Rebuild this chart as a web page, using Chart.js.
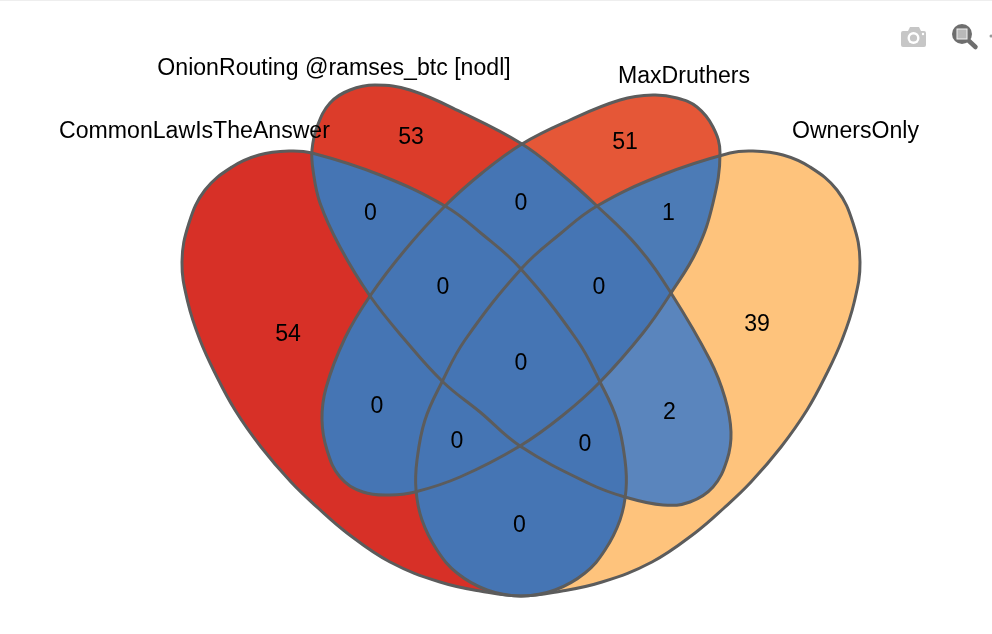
<!DOCTYPE html>
<html>
<head>
<meta charset="utf-8">
<title>Venn</title>
<script src="https://cdn.jsdelivr.net/npm/chart.js@4"></script>
<style>
	html, body { margin: 0; padding: 0; background: #fff; }
	#wrap { position: relative; width: 992px; height: 634px; overflow: hidden; }
	#wrap .topline { position: absolute; left: 0; top: 0; width: 992px; height: 1px; background: #eeeeee; }
	#wrap svg { position: absolute; left: 0; top: 0; }
	canvas { display: block; }
</style>
</head>
<body>
<div id="wrap">
	<canvas id="venn" width="992" height="634"></canvas>
	<div class="topline"></div>
	<!-- modebar icons -->
	<svg width="992" height="60" viewBox="0 0 992 60">
		<path d="M903 31h5l2-4h9l2 4h3a2 2 0 0 1 2 2v12a2 2 0 0 1-2 2h-21a2 2 0 0 1-2-2v-12a2 2 0 0 1 2-2z" fill="#c6c6c6"/>
		<circle cx="913.5" cy="38" r="6" fill="#fff"/>
		<circle cx="913.5" cy="38" r="3.6" fill="#c6c6c6"/>
		<circle cx="923" cy="34" r="1.2" fill="#fff"/>
		<line x1="968" y1="40" x2="975.5" y2="47" stroke="#6e6e6e" stroke-width="4.5" stroke-linecap="round"/>
		<circle cx="962" cy="34" r="10" fill="#6e6e6e"/>
		<rect x="957" y="29" width="10" height="10" fill="#b9b9b9" stroke="#f2f2f2" stroke-width="1"/>
		<circle cx="991" cy="36" r="1.5" fill="#999"/>
	</svg>
</div>
<script>
	// set names
	const setNames = ["CommonLawIsTheAnswer", "OnionRouting @ramses_btc [nodl]", "MaxDruthers", "OwnersOnly"];
	const setNameX = [194.5, 334, 684, 855.5];
	const setNameY = [132, 69, 77, 132];

	// which sets each region belongs to, and its count
	const regionSets = ["A", "B", "C", "D", "AB", "BC", "CD", "ABC", "BCD", "ABCD", "AC", "ACD", "ABD", "BD", "AD"];
	const regionCounts = [54, 53, 51, 39, 0, 0, 1, 0, 0, 0, 0, 0, 0, 2, 0];
	const regionLabelX = [288, 411, 625, 757, 370.5, 521, 668.5, 443, 599, 521, 377, 457, 585, 669.5, 519.5];
	const regionLabelY = [335, 138, 143, 325, 214, 204, 214, 288, 288, 364, 407, 442, 445, 413, 526];
	const regionColors = [
		"#d73027", "#dc3c2a", "#e55737", "#fec37c", "#4575b4", "#4575b4", "#4c7bb6", "#4575b4",
		"#4575b4", "#4575b4", "#4575b4", "#4575b4", "#4575b4", "#5a85bd", "#4575b4",
	];

	// outlines
	const outlineA = [
		{ x: 182, y: 262 }, { x: 189, y: 223 }, { x: 205, y: 190 }, { x: 232, y: 167 }, { x: 259, y: 155 },
		{ x: 289, y: 151 }, { x: 312, y: 153 }, { x: 380, y: 175 }, { x: 445, y: 206 }, { x: 482, y: 234 },
		{ x: 520, y: 268 }, { x: 577, y: 340 }, { x: 600, y: 382 }, { x: 617, y: 420 }, { x: 625, y: 460 },
		{ x: 626, y: 490 }, { x: 620, y: 520 }, { x: 605, y: 550 }, { x: 585, y: 573 }, { x: 555, y: 590 },
		{ x: 522, y: 596 }, { x: 480, y: 591 }, { x: 440, y: 582 }, { x: 390, y: 562 }, { x: 347, y: 533 },
		{ x: 318, y: 508 }, { x: 291, y: 482 }, { x: 261, y: 447 }, { x: 235, y: 410 }, { x: 215, y: 373 },
		{ x: 200, y: 340 }, { x: 188, y: 303 },
	];
	const outlineB = [
		{ x: 375, y: 85 }, { x: 410, y: 90 }, { x: 463, y: 113 }, { x: 522, y: 144 }, { x: 560, y: 173 },
		{ x: 597, y: 206 }, { x: 638, y: 247 }, { x: 671, y: 293 }, { x: 710, y: 360 }, { x: 725, y: 398 },
		{ x: 731, y: 432 }, { x: 727, y: 460 }, { x: 713, y: 487 }, { x: 690, y: 502 },
		{ x: 663, y: 505 }, { x: 625, y: 497 }, { x: 590, y: 484 }, { x: 520, y: 446 }, { x: 480, y: 412 },
		{ x: 443, y: 382 }, { x: 405, y: 340 }, { x: 370, y: 296 }, { x: 340, y: 247 }, { x: 320, y: 203 },
		{ x: 313, y: 170 }, { x: 312, y: 150 }, { x: 317, y: 127 }, { x: 330, y: 103 }, { x: 350, y: 90 },
	];
	const outlineC = [
		{ x: 653, y: 95 }, { x: 677, y: 98 }, { x: 697, y: 107 }, { x: 713, y: 127 }, { x: 720, y: 153 },
		{ x: 713, y: 203 }, { x: 697, y: 250 }, { x: 671, y: 293 }, { x: 643, y: 333 }, { x: 600, y: 382 },
		{ x: 562, y: 416 }, { x: 520, y: 446 }, { x: 460, y: 477 }, { x: 415, y: 492 }, { x: 390, y: 495 },
		{ x: 363, y: 492 }, { x: 340, y: 477 }, { x: 327, y: 450 }, { x: 322, y: 420 }, { x: 326, y: 388 },
		{ x: 345, y: 338 }, { x: 370, y: 296 }, { x: 405, y: 250 }, { x: 445, y: 206 },
		{ x: 482, y: 173 }, { x: 522, y: 144 }, { x: 570, y: 120 }, { x: 620, y: 100 },
	];
	const outlineD = [
		{ x: 860, y: 262 }, { x: 854, y: 303 }, { x: 842, y: 340 }, { x: 827, y: 373 }, { x: 807, y: 410 },
		{ x: 781, y: 447 }, { x: 751, y: 482 }, { x: 724, y: 508 }, { x: 695, y: 533 }, { x: 652, y: 562 },
		{ x: 602, y: 582 }, { x: 562, y: 591 }, { x: 520, y: 596 }, { x: 487, y: 590 }, { x: 457, y: 573 },
		{ x: 437, y: 550 }, { x: 422, y: 520 }, { x: 416, y: 490 }, { x: 417, y: 460 }, { x: 425, y: 420 },
		{ x: 442, y: 382 }, { x: 465, y: 340 }, { x: 522, y: 268 }, { x: 560, y: 234 }, { x: 597, y: 206 },
		{ x: 662, y: 175 }, { x: 730, y: 153 }, { x: 753, y: 151 }, { x: 783, y: 155 }, { x: 810, y: 167 },
		{ x: 837, y: 190 }, { x: 853, y: 223 },
	];

	const outlines = [outlineA, outlineB, outlineC, outlineD];
	const setKeys = ["A", "B", "C", "D"];
	const FONT = '23.1px "Liberation Sans", Arial, sans-serif';

	const regionFill = {
		id: "regionFill",
		// same trick the radar controller uses, so the outlines close without a kink
		afterDatasetsUpdate(chart) {
			setKeys.forEach((key, i) => {
				const line = chart.getDatasetMeta(i).dataset;
				line._loop = true;
				line._fullLoop = true;
				line._pointsUpdated = false;
				line._segments = undefined;
				line._path = undefined;
			});
		},
		// paints each region by clipping to the line elements of the four outlines
		beforeDatasetsDraw(chart) {
			const ctx = chart.ctx;
			const w = chart.width;
			const h = chart.height;
			const lines = setKeys.map((key, i) => {
				const line = chart.getDatasetMeta(i).dataset;
				line.updateControlPoints(chart.chartArea, "x");
				return line;
			});
			regionSets.forEach((members, r) => {
				ctx.save();
				setKeys.forEach((key, i) => {
					ctx.beginPath();
					if (members.includes(key)) {
						lines[i].path(ctx);
						ctx.closePath();
						ctx.clip();
					} else {
						ctx.rect(0, 0, w, h);
						lines[i].path(ctx);
						ctx.closePath();
						ctx.clip("evenodd");
					}
				});
				ctx.fillStyle = regionColors[r];
				ctx.fillRect(0, 0, w, h);
				ctx.restore();
			});
		},
		afterDatasetsDraw(chart) {
			const ctx = chart.ctx;
			const { x, y } = chart.scales;
			ctx.save();
			ctx.font = FONT;
			ctx.fillStyle = "#000";
			ctx.textAlign = "center";
			ctx.textBaseline = "middle";
			regionCounts.forEach((count, r) => {
				ctx.fillText(String(count), x.getPixelForValue(regionLabelX[r]), y.getPixelForValue(regionLabelY[r]));
			});
			setNames.forEach((name, i) => {
				ctx.fillText(name, x.getPixelForValue(setNameX[i]), y.getPixelForValue(setNameY[i]));
			});
			ctx.restore();
		},
	};

	new Chart(document.getElementById("venn"), {
		type: "scatter",
		data: {
			datasets: outlines.map((points, i) => ({
				label: setNames[i],
				data: points,
				showLine: true,
				fill: false,
				tension: 0.4,
				capBezierPoints: false,
				borderColor: "#5c5c5c",
				borderWidth: 3,
				pointRadius: 0,
			})),
		},
		options: {
			responsive: false,
			animation: false,
			layout: { padding: 0 },
			clip: false,
			plugins: {
				legend: { display: false },
				tooltip: { enabled: false },
			},
			scales: {
				x: { type: "linear", min: 0, max: 992, display: false },
				y: { type: "linear", min: 0, max: 634, reverse: true, display: false },
			},
		},
		plugins: [regionFill],
	});
</script>
</body>
</html>
